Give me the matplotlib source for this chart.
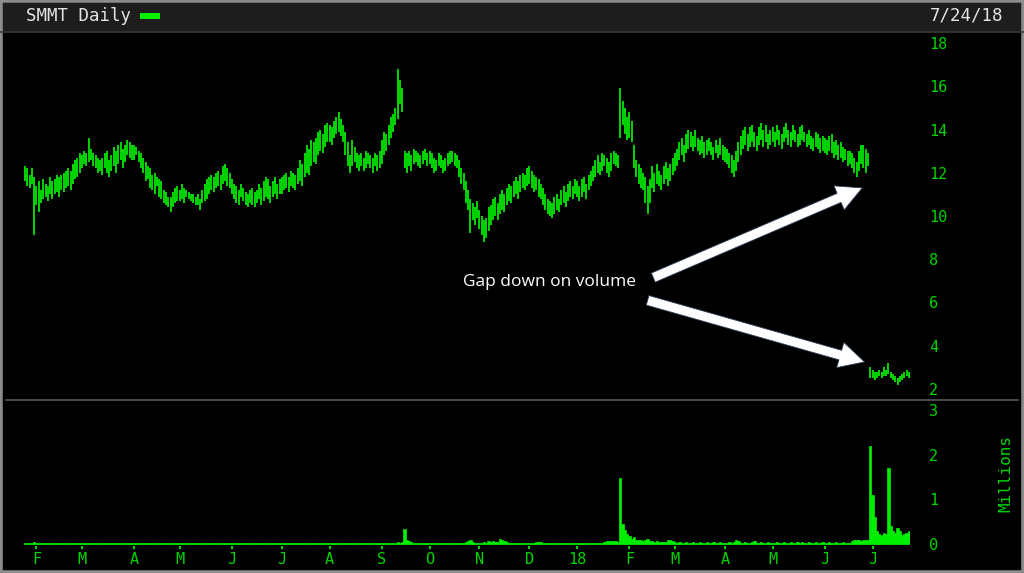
## SMMT daily bar chart with volume panel (black terminal style)
import matplotlib
matplotlib.use('Agg')
import matplotlib.pyplot as plt
from matplotlib.patches import Rectangle
from matplotlib.lines import Line2D
import pandas as pd

plt.rcParams['font.family'] = ['DejaVu Sans Mono']

## Daily lows / highs, Jan 25 2017 .. Jul 24 2018 (one line per month)
lows = [
    11.6, 11.4, 11.3, 11.5, 9.1,
    10.5, 10.2, 10.6, 10.8, 10.9, 10.7, 11.0, 10.8, 11.0, 11.1, 10.9, 11.2, 11.1, 11.3, 11.4, 11.2, 11.5, 11.7, 11.8, 12.0,
    12.2, 12.4, 12.3, 12.5, 12.6, 12.3, 12.2, 12.0, 12.1, 11.9, 12.2, 12.0, 11.8, 12.1, 12.3, 12.0, 12.4, 12.6, 12.2, 12.5, 12.8, 12.7, 12.6,
    12.6, 12.8, 12.5, 12.2, 12.0, 11.6, 11.7, 11.3, 11.2, 11.0, 11.4, 10.9, 10.8, 10.6, 10.5, 10.4, 10.2, 10.4, 10.6, 10.7,
    10.7, 10.8, 10.6, 10.9, 10.8, 10.7, 10.6, 10.5, 10.5, 10.3, 10.6, 10.7, 10.8, 11.0, 11.2, 11.1, 11.3, 11.4, 11.2, 11.5, 11.6, 11.4, 11.3,
    11.0, 10.8, 10.6, 10.5, 10.9, 10.7, 10.5, 10.4, 10.6, 10.5, 10.4, 10.6, 10.8, 10.5, 10.7, 10.9, 10.8, 10.6, 10.9, 11.0, 10.8, 11.0,
    11.0, 11.2, 11.3, 11.1, 11.4, 11.3, 11.2, 11.5, 11.6, 11.4, 11.8, 12.0, 11.9, 12.3, 12.5, 12.4, 12.8, 13.0, 12.9, 13.2, 13.4,
    13.4, 13.3, 13.6, 13.8, 13.9, 13.7, 13.4, 12.8, 12.3, 12.0, 12.3, 12.5, 12.2, 12.1, 12.3, 12.1, 12.2, 12.4, 12.2, 12.0, 12.3, 12.1, 12.2,
    12.4, 12.8, 13.0, 13.3, 13.6, 13.9, 14.2, 14.5, 15.2, 14.8, 12.2, 12.0, 12.3, 12.1, 12.4, 12.5, 12.3, 12.2, 12.4, 12.6, 12.3,
    12.4, 12.2, 12.0, 12.1, 12.3, 12.2, 12.0, 12.1, 12.3, 12.4, 12.5, 12.3, 12.2, 11.8, 11.5, 11.2, 10.6, 10.3, 9.2, 9.8, 9.6, 9.9,
    9.4, 9.1, 8.8, 9.0, 9.3, 9.6, 9.8, 10.0, 9.8, 10.1, 10.3, 10.2, 10.5, 10.7, 10.6, 10.9, 11.0, 10.8, 11.1, 11.3, 11.2, 11.4,
    11.5, 11.3, 11.1, 11.2, 10.9, 10.8, 10.5, 10.3, 10.1, 10.0, 9.9, 10.1, 10.3, 10.2, 10.5, 10.6, 10.4, 10.7, 10.9, 10.8, 11.0,
    10.9, 10.7, 10.9, 11.1, 10.8, 11.2, 11.4, 11.6, 11.8, 12.0, 11.9, 12.1, 12.3, 12.0, 11.8, 12.1, 12.4, 12.3, 12.2, 13.6, 14.2, 13.8, 13.5,
    13.6, 13.4, 12.2, 11.8, 11.5, 11.3, 11.2, 10.6, 10.1, 10.6, 11.3, 11.1, 11.5, 11.4, 11.2, 11.5, 11.7, 11.4, 11.6, 11.9,
    12.1, 12.3, 12.6, 12.8, 12.5, 12.9, 13.1, 13.2, 13.0, 13.2, 13.0, 12.8, 12.9, 12.7, 12.8, 13.0, 12.8, 12.6, 12.9, 12.7, 12.8, 12.6,
    12.5, 12.4, 12.2, 12.0, 11.8, 12.1, 12.5, 12.8, 13.1, 13.3, 13.0, 13.2, 13.4, 13.2, 13.0, 13.3, 13.5, 13.2, 13.4, 13.1, 13.3,
    13.4, 13.2, 13.5, 13.3, 13.1, 13.4, 13.6, 13.3, 13.2, 13.5, 13.4, 13.2, 13.3, 13.5, 13.4, 13.2, 13.3, 13.1, 13.0, 13.2, 13.1, 12.9, 13.0,
    12.9, 12.8, 13.0, 12.9, 12.7, 12.8, 12.6, 12.7, 12.5, 12.6, 12.3, 12.4, 12.2, 12.0, 11.8, 12.1, 12.4, 12.2, 12.0, 12.3, 2.5,
    2.5, 2.4, 2.5, 2.6, 2.5, 2.6, 2.6, 2.7, 2.5, 2.4, 2.3, 2.2, 2.3, 2.4, 2.5, 2.6, 2.5,
]
highs = [
    12.3, 12.2, 11.9, 12.2, 11.8,
    11.4, 11.6, 11.2, 11.7, 11.5, 11.4, 11.8, 11.6, 11.7, 11.9, 11.8, 11.9, 12.0, 12.1, 12.2, 12.1, 12.4, 12.6, 12.7, 12.9,
    12.8, 13.0, 12.9, 13.6, 13.1, 12.9, 12.8, 12.7, 12.6, 12.7, 12.9, 13.0, 12.6, 12.8, 13.2, 13.0, 13.3, 13.4, 13.1, 13.3, 13.5, 13.4, 13.3,
    13.3, 13.2, 13.0, 12.9, 12.7, 12.5, 12.3, 12.2, 11.9, 12.0, 11.8, 11.7, 11.6, 11.2, 11.1, 10.9, 10.9, 11.1, 11.3, 11.4,
    11.2, 11.5, 11.3, 11.2, 11.1, 11.0, 11.0, 10.9, 11.0, 10.8, 11.2, 11.5, 11.7, 11.8, 11.9, 11.8, 12.0, 12.1, 11.9, 12.3, 12.4, 12.2, 12.0,
    11.7, 11.5, 11.4, 11.2, 11.5, 11.3, 11.1, 11.0, 11.2, 11.3, 11.1, 11.2, 11.5, 11.3, 11.6, 11.8, 11.7, 11.4, 11.6, 11.8, 11.5, 11.7,
    11.8, 11.9, 12.0, 11.8, 12.1, 12.0, 11.9, 12.2, 12.6, 12.4, 12.9, 13.3, 13.1, 13.5, 13.4, 13.6, 13.9, 14.0, 13.8, 14.2, 14.3,
    14.2, 14.1, 14.4, 14.6, 14.8, 14.5, 14.2, 13.9, 13.4, 12.8, 13.5, 13.2, 12.9, 12.8, 12.9, 12.7, 13.0, 12.9, 12.8, 12.7, 12.9, 12.8, 13.0,
    13.5, 13.9, 13.8, 14.2, 14.6, 14.7, 15.0, 16.8, 16.3, 15.9, 13.0, 12.9, 13.0, 12.8, 13.1, 13.0, 12.9, 12.8, 13.0, 13.1, 12.9,
    13.0, 12.9, 12.7, 12.6, 12.9, 12.8, 12.6, 12.7, 12.9, 13.0, 13.0, 12.9, 12.8, 12.6, 12.2, 12.0, 11.6, 11.2, 10.8, 10.6, 10.4, 10.7,
    10.3, 10.0, 9.8, 9.9, 10.4, 10.5, 10.8, 10.9, 10.6, 11.0, 11.2, 11.0, 11.3, 11.5, 11.4, 11.6, 11.8, 11.6, 11.9, 12.0, 11.9, 12.2,
    12.3, 12.1, 11.9, 11.8, 11.7, 11.5, 11.3, 11.0, 10.8, 10.7, 10.6, 10.9, 11.0, 10.8, 11.2, 11.4, 11.1, 11.5, 11.6, 11.4, 11.7,
    11.6, 11.4, 11.7, 11.8, 11.5, 11.9, 12.1, 12.3, 12.6, 12.8, 12.5, 12.9, 12.8, 12.7, 12.5, 12.9, 13.0, 12.9, 12.8, 15.9, 15.3, 15.0, 14.6,
    14.8, 14.4, 13.3, 12.6, 12.4, 12.2, 12.0, 11.8, 11.4, 11.7, 12.3, 12.0, 12.4, 12.1, 11.9, 12.3, 12.5, 12.2, 12.4, 12.7,
    12.9, 13.1, 13.4, 13.6, 13.3, 13.8, 14.0, 13.9, 13.7, 14.0, 13.6, 13.5, 13.7, 13.4, 13.5, 13.6, 13.4, 13.2, 13.5, 13.3, 13.6, 13.3,
    13.2, 13.1, 12.9, 12.8, 12.6, 13.0, 13.4, 13.7, 14.0, 14.1, 13.8, 14.1, 14.2, 13.9, 13.7, 14.1, 14.3, 14.0, 14.2, 13.8, 14.0,
    14.1, 13.9, 14.2, 14.0, 13.8, 14.1, 14.3, 14.0, 13.9, 14.2, 14.0, 13.8, 14.1, 14.2, 13.9, 13.8, 14.0, 13.7, 13.6, 13.9, 13.8, 13.6, 13.7,
    13.6, 13.5, 13.7, 13.8, 13.4, 13.5, 13.3, 13.4, 13.2, 13.1, 13.0, 13.0, 12.9, 12.7, 12.5, 13.0, 13.3, 13.3, 13.1, 12.9, 3.0,
    2.9, 2.8, 2.8, 2.9, 2.8, 3.0, 2.9, 3.2, 2.8, 2.7, 2.6, 2.5, 2.6, 2.7, 2.8, 2.9, 2.8,
]
## Daily volume, millions of shares
volume = [
    0.03, 0.03, 0.02, 0.03, 0.04,
    0.03, 0.02, 0.03, 0.03, 0.02, 0.03, 0.02, 0.03, 0.03, 0.02, 0.03, 0.02, 0.03, 0.02, 0.03, 0.03, 0.02, 0.03, 0.02, 0.03,
    0.03, 0.02, 0.03, 0.03, 0.02, 0.03, 0.02, 0.03, 0.03, 0.02, 0.03, 0.02, 0.03, 0.02, 0.03, 0.03, 0.02, 0.03, 0.02, 0.03, 0.03, 0.02, 0.03,
    0.03, 0.02, 0.03, 0.03, 0.02, 0.03, 0.02, 0.03, 0.03, 0.02, 0.03, 0.02, 0.03, 0.02, 0.03, 0.03, 0.02, 0.03, 0.02, 0.03,
    0.03, 0.02, 0.03, 0.03, 0.02, 0.03, 0.02, 0.03, 0.03, 0.02, 0.03, 0.02, 0.03, 0.02, 0.03, 0.03, 0.02, 0.03, 0.02, 0.03, 0.03, 0.02, 0.03,
    0.03, 0.02, 0.03, 0.03, 0.02, 0.03, 0.02, 0.03, 0.03, 0.02, 0.03, 0.02, 0.03, 0.02, 0.03, 0.03, 0.02, 0.03, 0.02, 0.03, 0.03, 0.02,
    0.03, 0.02, 0.03, 0.03, 0.02, 0.03, 0.02, 0.03, 0.03, 0.02, 0.03, 0.02, 0.03, 0.02, 0.03, 0.03, 0.02, 0.03, 0.02, 0.03, 0.03,
    0.03, 0.02, 0.03, 0.03, 0.02, 0.03, 0.02, 0.03, 0.03, 0.02, 0.03, 0.02, 0.03, 0.02, 0.03, 0.03, 0.02, 0.03, 0.02, 0.03, 0.03, 0.02, 0.03,
    0.03, 0.02, 0.03, 0.03, 0.02, 0.03, 0.03, 0.04, 0.03, 0.04, 0.33, 0.10, 0.06, 0.04, 0.03, 0.03, 0.02, 0.03, 0.03, 0.02, 0.03,
    0.03, 0.02, 0.03, 0.03, 0.02, 0.03, 0.02, 0.03, 0.03, 0.02, 0.03, 0.02, 0.03, 0.02, 0.03, 0.03, 0.04, 0.07, 0.09, 0.05, 0.03, 0.03,
    0.03, 0.03, 0.04, 0.03, 0.06, 0.05, 0.06, 0.05, 0.04, 0.12, 0.08, 0.06, 0.05, 0.03, 0.03, 0.02, 0.03, 0.03, 0.02, 0.03, 0.03, 0.02,
    0.03, 0.03, 0.03, 0.05, 0.05, 0.05, 0.03, 0.02, 0.03, 0.03, 0.02, 0.03, 0.02, 0.03, 0.03, 0.02, 0.03, 0.02, 0.03, 0.03, 0.02,
    0.03, 0.02, 0.03, 0.03, 0.02, 0.03, 0.02, 0.03, 0.03, 0.02, 0.03, 0.03, 0.04, 0.06, 0.06, 0.06, 0.06, 0.06, 0.04, 1.48, 0.45, 0.32, 0.22,
    0.18, 0.12, 0.15, 0.09, 0.08, 0.10, 0.07, 0.09, 0.12, 0.07, 0.06, 0.05, 0.06, 0.05, 0.04, 0.04, 0.05, 0.08, 0.10, 0.06,
    0.04, 0.03, 0.04, 0.03, 0.03, 0.04, 0.03, 0.03, 0.04, 0.03, 0.03, 0.04, 0.03, 0.03, 0.04, 0.03, 0.03, 0.04, 0.03, 0.03, 0.04, 0.03,
    0.03, 0.03, 0.04, 0.03, 0.04, 0.10, 0.06, 0.03, 0.03, 0.04, 0.03, 0.03, 0.04, 0.06, 0.03, 0.03, 0.04, 0.03, 0.03, 0.04, 0.03,
    0.03, 0.03, 0.04, 0.03, 0.03, 0.04, 0.03, 0.03, 0.04, 0.03, 0.03, 0.05, 0.03, 0.05, 0.03, 0.03, 0.04, 0.03, 0.03, 0.04, 0.03, 0.03, 0.04,
    0.03, 0.03, 0.04, 0.03, 0.03, 0.04, 0.03, 0.03, 0.04, 0.03, 0.03, 0.03, 0.07, 0.08, 0.09, 0.08, 0.07, 0.08, 0.09, 0.08, 2.20,
    1.10, 0.60, 0.30, 0.22, 0.20, 0.25, 0.22, 1.70, 0.40, 0.30, 0.25, 0.35, 0.28, 0.20, 0.22, 0.25, 0.30,
]
month_labels = ['F', 'M', 'A', 'M', 'J', 'J', 'A', 'S', 'O', 'N', 'D', '18',
                'F', 'M', 'A', 'M', 'J', 'J']
price_ticks = [2, 4, 6, 8, 10, 12, 14, 16, 18]
volume_ticks = [0, 1, 2, 3]

GREEN = '#00f000'
LABEL = '#00d400'

dates = pd.bdate_range('2017-01-25', periods=len(lows))
x = list(range(len(lows)))
month_pos = [i for i in range(1, len(dates)) if dates[i].month != dates[i - 1].month]

W, H = 1024, 573
def fx(px):
    return px / W
def fy(py):
    return 1 - py / H

fig = plt.figure(figsize=(W / 100, H / 100), dpi=100, facecolor='black')

## header strip
fig.patches.append(Rectangle((0, fy(31)), 1, fy(3) - fy(31), transform=fig.transFigure,
                             facecolor='#1d1d1d', edgecolor='none', zorder=0))
fig.add_artist(Line2D([0, 1], [fy(31.5)] * 2, color='#3c3c3c', lw=1.2))
fig.text(fx(26), fy(16), 'SMMT Daily', color='#e4e4e4', fontsize=12.5, ha='left', va='center')
fig.patches.append(Rectangle((fx(140), fy(19)), fx(20), 6 / H, transform=fig.transFigure,
                             facecolor=GREEN, edgecolor='none'))
fig.text(fx(1003), fy(16), '7/24/18', color='#e4e4e4', fontsize=12.5, ha='right', va='center')

## price panel
ax = fig.add_axes([fx(24), fy(400), fx(910) - fx(24), fy(32) - fy(400)])
axv = fig.add_axes([fx(24), fy(546), fx(910) - fx(24), fy(402) - fy(546)], sharex=ax)
for a in (ax, axv):
    a.set_facecolor('none')
    for s in a.spines.values():
        s.set_visible(False)

ax.vlines(x, lows, highs, color=GREEN, lw=1.25)
ax.set_xlim(-0.5, len(lows) - 0.5)
ax.set_ylim(1.49, 18.51)
ax.yaxis.tick_right()
ax.set_yticks(price_ticks)
ax.tick_params(axis='y', length=0, pad=13.5, labelcolor=LABEL, labelsize=11)
ax.tick_params(axis='x', bottom=False, labelbottom=False)

## annotation
ax.text(231, 6.95, 'Gap down on volume', color='white', fontsize=12.5,
        family='Open Sans', ha='center', va='center')
arrow = dict(arrowstyle='simple,head_length=1.4,head_width=1.45,tail_width=0.55',
             fc='white', ec='#2a3a55', lw=0.6, mutation_scale=13, shrinkA=0, shrinkB=0)
ax.annotate('', xy=(368.5, 11.3), xytext=(276.5, 7.15), arrowprops=arrow)
ax.annotate('', xy=(369.5, 3.25), xytext=(274, 6.1), arrowprops=arrow)

## volume panel
axv.bar(x, volume, width=1.0, color=GREEN, edgecolor=GREEN, linewidth=0.5)
axv.set_ylim(-0.045, 3.18)
axv.yaxis.tick_right()
axv.set_yticks(volume_ticks)
axv.tick_params(axis='y', length=0, pad=13.5, labelcolor=LABEL, labelsize=11)
axv.set_xticks(month_pos)
axv.set_xticklabels(month_labels)
axv.tick_params(axis='x', direction='out', length=2.5, width=1.3, color=GREEN,
                pad=2, labelcolor=LABEL, labelsize=11)
fig.text(fx(1006), fy(473), 'Millions', rotation=90, color=LABEL, fontsize=11.5,
         ha='center', va='center')

## panel separator and outer frame
fig.add_artist(Line2D([fx(6), fx(1018)], [fy(400)] * 2, color='#505050', lw=1.3))
fig.patches.append(Rectangle((0, 0), 1, 1, transform=fig.transFigure, fill=False,
                             edgecolor='#8c8c8c', lw=4))

fig.savefig('out.png', dpi=100, facecolor='black')
